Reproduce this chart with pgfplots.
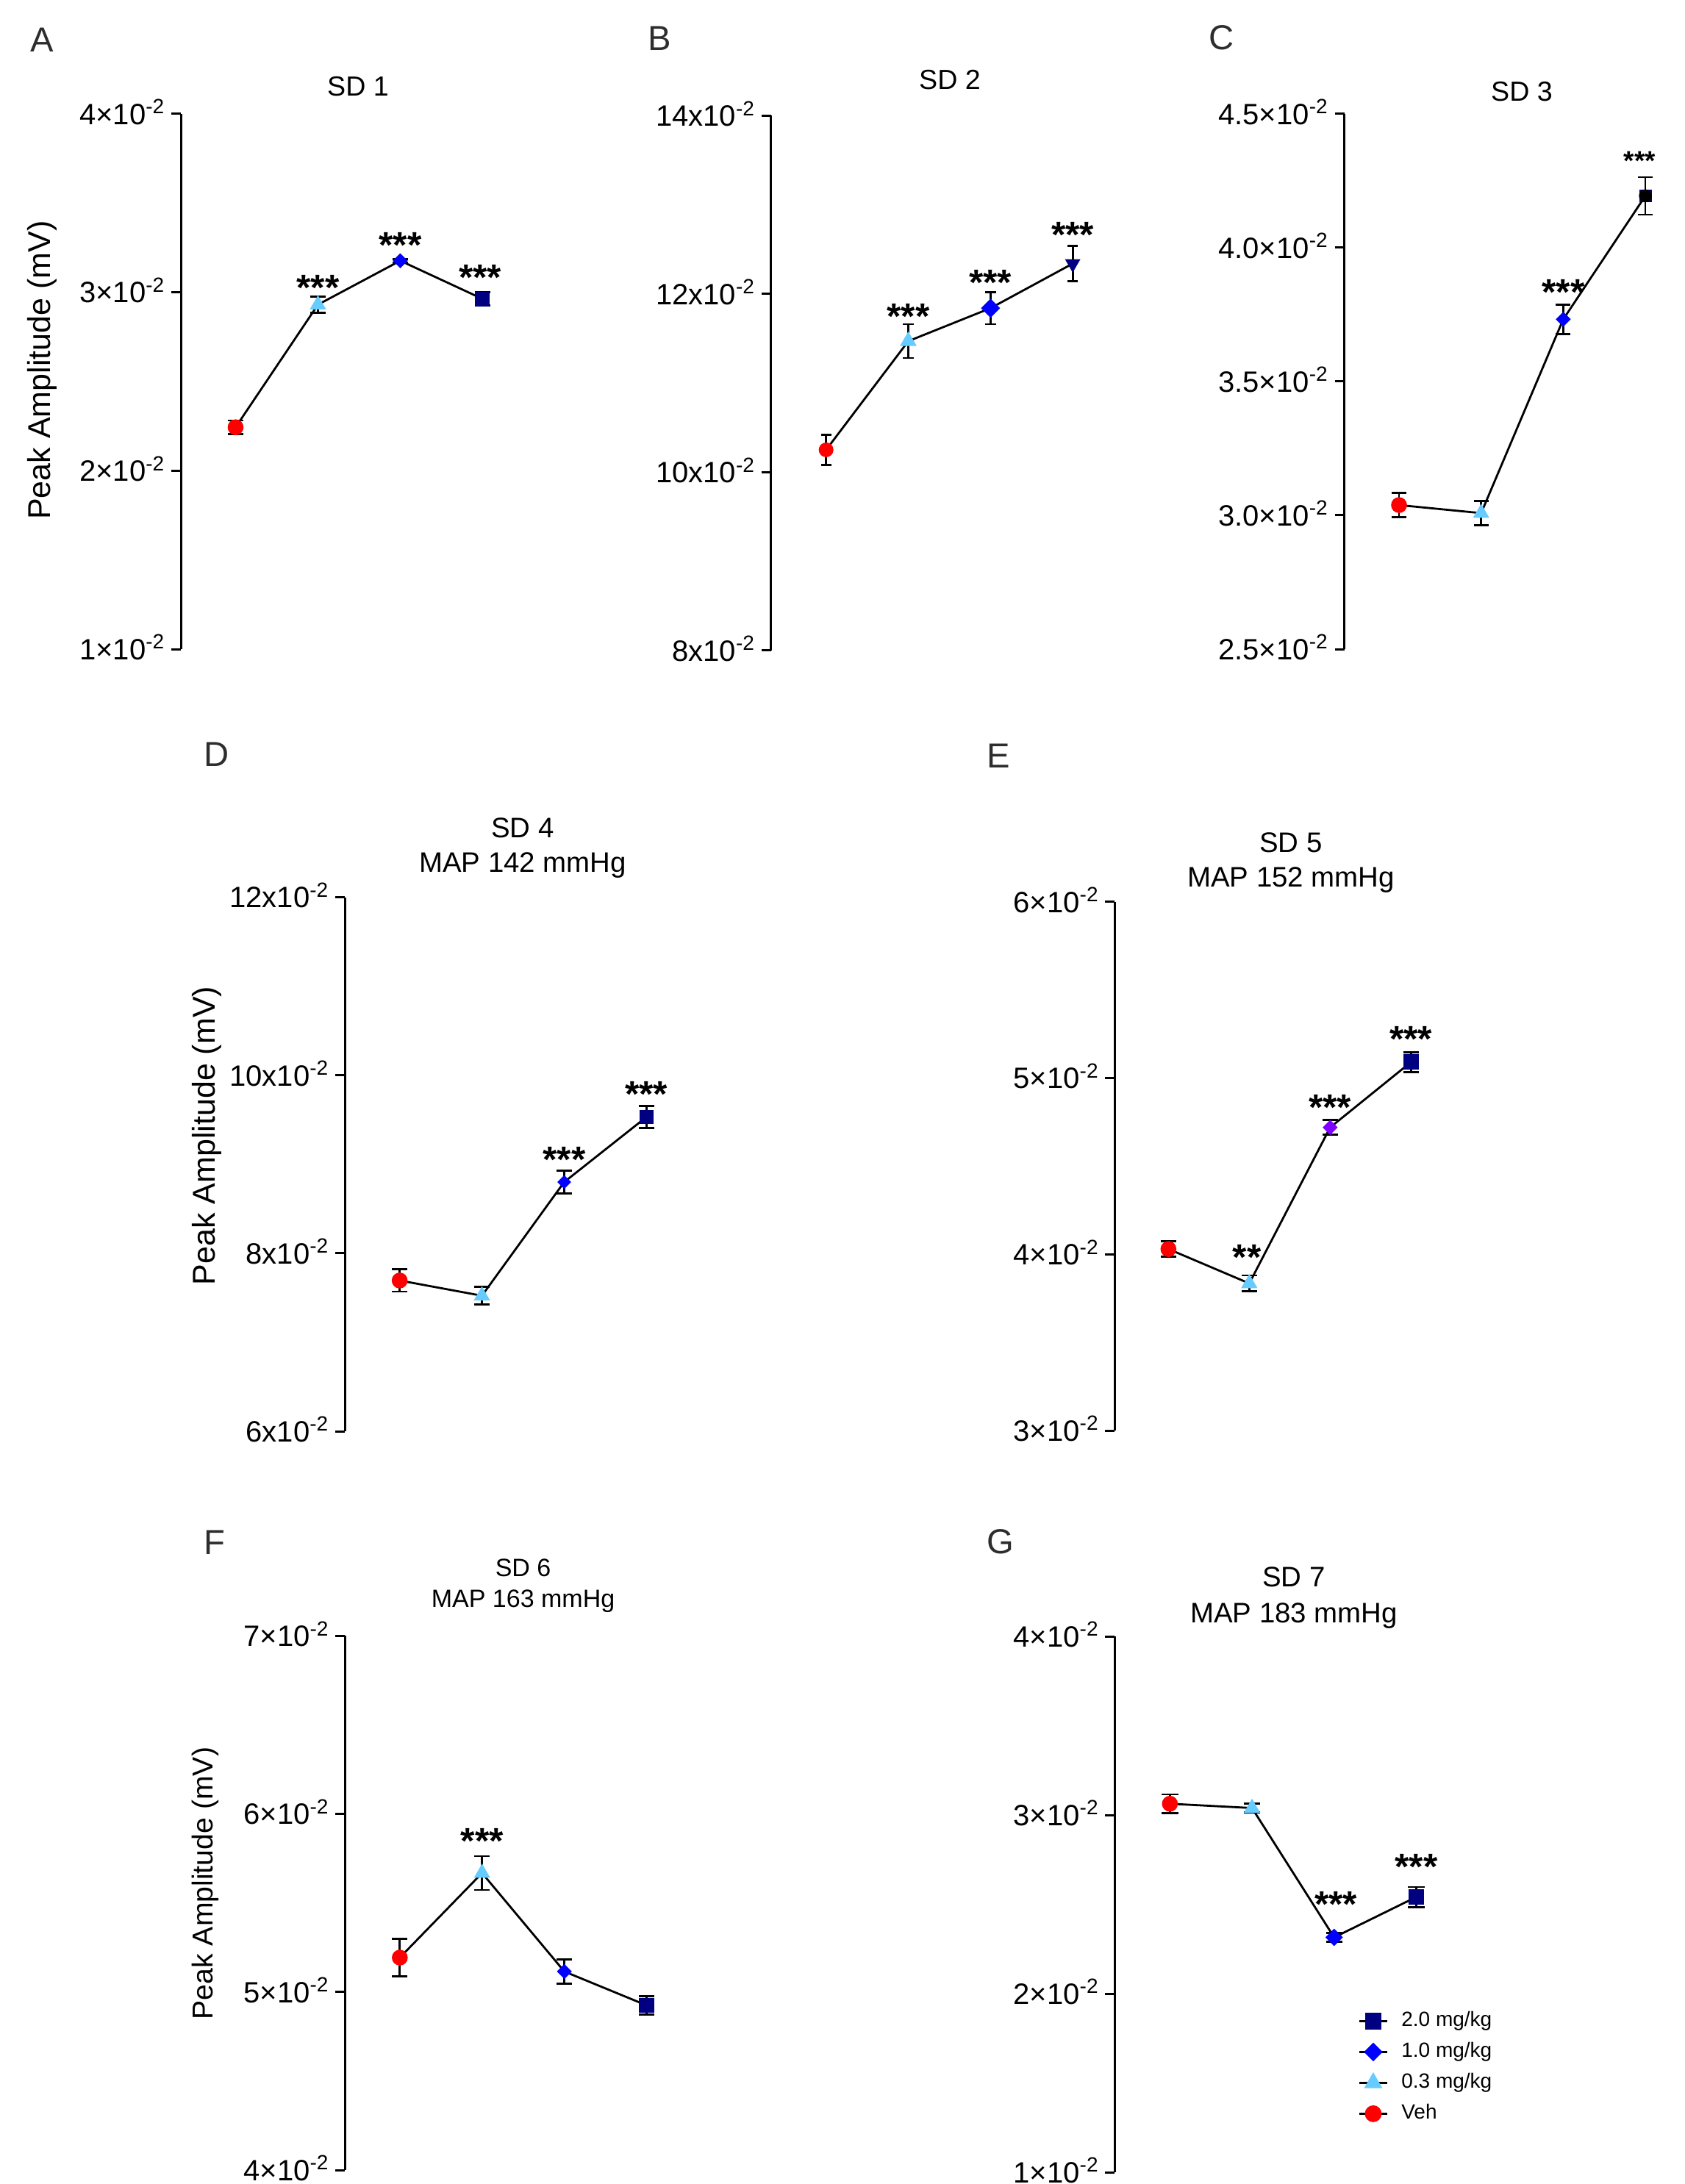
\documentclass[border=0pt]{standalone}
\usepackage{fontspec}
\setmainfont{Liberation Sans}
\usepackage{pgfplots}
\pgfplotsset{compat=1.18}
\definecolor{vehred}{RGB}{255,0,0}
\definecolor{lblue}{RGB}{102,204,255}
\definecolor{dblue}{RGB}{0,0,255}
\definecolor{navy}{RGB}{0,0,128}
\definecolor{purp}{RGB}{128,0,255}
\definecolor{lettergray}{RGB}{45,45,45}
\newcommand\stars{\bfseries\fontsize{12.4}{12}\selectfont}
\newcommand\tfont{\fontsize{9.6}{11}\selectfont}
\tikzset{st/.style={font=\stars, anchor=base, yshift=-5.3pt}}
\pgfplotsset{
  panel/.style={
    hide x axis, axis y line*=left, ytick pos=left, clip=false,
    tick align=outside, major tick length=3.25pt, minor tick num=0,
    y axis line style={line width=0.75pt, black},
    ytick style={line width=0.75pt, black},
    yticklabel style={font=\fontsize{10}{12}\selectfont, inner sep=0pt, anchor=base east, xshift=-1.75pt, yshift=-3.6pt},
    anchor=south west, xmax=3.3,
  },
  vehm/.style={only marks, mark=*, mark size=2.5pt, color=vehred, forget plot},
  lbm/.style={only marks, mark=triangle*, mark size=2.8pt, color=lblue, forget plot},
  dm/.style={only marks, mark=square*, mark size=1.6pt, mark options={rotate=45}, color=#1, forget plot},
  dm/.default=dblue,
  sqm/.style={only marks, mark=square*, mark size=2.3pt, color=navy, forget plot},
  errplot/.style={black, line width=0.7pt, mark=none, forget plot,
    error bars/.cd, y dir=both, y explicit,
    error bar style={line width=0.7pt, black},
    error mark options={rotate=90, mark size=#1, line width=0.7pt, black}},
  errplot/.default=2.7pt,
}
\begin{document}
\begin{tikzpicture}
\useasboundingbox (0,0) rectangle (573pt,-742.75pt);

% ---------------- A ----------------
\begin{axis}[panel, at={(61.5pt,-220.75pt)}, x=28pt, y=60.7pt,
  xmin=-0.665, ymin=1, ymax=4, ytick={1,2,3,4},
  yticklabels={1×10\textsuperscript{-2},2×10\textsuperscript{-2},3×10\textsuperscript{-2},4×10\textsuperscript{-2}}]
\addplot[vehm] coordinates {(0,2.243)};
\addplot[lbm] coordinates {(1,2.93)};
\addplot[dm] coordinates {(2,3.176)};
\addplot[sqm] coordinates {(3,2.962)};
\addplot[errplot] coordinates {(0,2.243) +- (0,0.038) (1,2.93) +- (0,0.045) (2,3.176) +- (0,0.01) (3,2.962) +- (0,0.038)};
\node[st] at (axis cs:1,3.043) {***};
\node[st] at (axis cs:2,3.281) {***};
\node[st] at (axis cs:2.97,3.098) {***};
\end{axis}

% ---------------- B ----------------
\begin{axis}[panel, at={(262.175pt,-221.15pt)}, x=27.95pt, y=30.3pt,
  xmin=-0.671, ymin=8, ymax=14, ytick={8,10,12,14},
  yticklabels={8x10\textsuperscript{-2},10x10\textsuperscript{-2},12x10\textsuperscript{-2},14x10\textsuperscript{-2}}]
\addplot[vehm, mark size=2.3pt] coordinates {(0,10.25)};
\addplot[lbm, mark size=2.9pt] coordinates {(1,11.47)};
\addplot[dm, mark size=2.1pt] coordinates {(2,11.84)};
\addplot[only marks, mark=triangle*, mark size=2.65pt, mark options={rotate=180}, color=navy, forget plot] coordinates {(3,12.34)};
\addplot[errplot=1.8pt] coordinates {(0,10.25) +- (0,0.17) (1,11.47) +- (0,0.19) (2,11.84) +- (0,0.18) (3,12.34) +- (0,0.20)};
\node[st] at (axis cs:1,11.78) {***};
\node[st] at (axis cs:2,12.16) {***};
\node[st] at (axis cs:3,12.70) {***};
\end{axis}

% ---------------- C ----------------
\begin{axis}[panel, at={(457.125pt,-220.75pt)}, x=27.925pt, y=91.05pt,
  xmin=-0.667, ymin=2.5, ymax=4.5, ytick={2.5,3,3.5,4,4.5},
  yticklabels={2.5×10\textsuperscript{-2},3.0×10\textsuperscript{-2},3.5×10\textsuperscript{-2},4.0×10\textsuperscript{-2},4.5×10\textsuperscript{-2}}]
\addplot[vehm] coordinates {(0,3.038)};
\addplot[lbm] coordinates {(1,3.008)};
\addplot[dm] coordinates {(2,3.732)};
\addplot[sqm, mark size=1.95pt] coordinates {(3,4.193)};
\addplot[errplot=2.5pt] coordinates {(0,3.038) +- (0,0.045) (1,3.008) +- (0,0.045) (2,3.732) +- (0,0.055)};
\addplot[black, line width=0.7pt, forget plot] coordinates {(2,3.732) (3,4.193)};
\addplot[only marks, mark=none, forget plot, error bars/.cd, y dir=both, y explicit,
  error bar style={line width=0.4pt, black}, error mark options={rotate=90, mark size=2.5pt, line width=0.4pt, black}]
  coordinates {(3,4.193) +- (0,0.07)};
\node[st] at (axis cs:2,3.845) {***};
\node[font=\bfseries\fontsize{9.2}{10}\selectfont, anchor=base, yshift=-3.9pt] at (axis cs:2.93,4.333) {***};
\end{axis}

% ---------------- D ----------------
\begin{axis}[panel, at={(117.25pt,-486.75pt)}, x=27.975pt, y=30.27pt,
  xmin=-0.667, ymin=6, ymax=12, ytick={6,8,10,12},
  yticklabels={6x10\textsuperscript{-2},8x10\textsuperscript{-2},10x10\textsuperscript{-2},12x10\textsuperscript{-2}}]
\addplot[vehm] coordinates {(0,7.694)};
\addplot[lbm] coordinates {(1,7.523)};
\addplot[dm, mark size=1.45pt] coordinates {(2,8.80)};
\addplot[sqm, mark size=2.2pt] coordinates {(3,9.531)};
\addplot[errplot=2.6pt] coordinates {(0,7.694) +- (0,0.125) (1,7.523) +- (0,0.10) (2,8.80) +- (0,0.125) (3,9.531) +- (0,0.127)};
\node[st] at (axis cs:2,9.09) {***};
\node[st] at (axis cs:3,9.82) {***};
\end{axis}

% ---------------- E ----------------
\begin{axis}[panel, at={(379.1pt,-486.5pt)}, x=27.5pt, y=59.93pt,
  xmin=-0.663, ymin=3, ymax=6, ytick={3,4,5,6},
  yticklabels={3×10\textsuperscript{-2},4×10\textsuperscript{-2},5×10\textsuperscript{-2},6×10\textsuperscript{-2}}]
\addplot[vehm] coordinates {(0,4.03)};
\addplot[lbm] coordinates {(1,3.835)};
\addplot[dm=purp] coordinates {(2,4.72)};
\addplot[sqm, mark size=2.4pt] coordinates {(3,5.091)};
\addplot[errplot=2.6pt] coordinates {(0,4.03) +- (0,0.044) (1,3.835) +- (0,0.045) (2,4.72) +- (0,0.042) (3,5.091) +- (0,0.057)};
\node[st] at (axis cs:0.97,4.0) {**};
\node[st] at (axis cs:2,4.85) {***};
\node[st] at (axis cs:3,5.24) {***};
\end{axis}

% ---------------- F ----------------
\begin{axis}[panel, at={(117.3pt,-738pt)}, x=27.975pt, y=60.56pt,
  xmin=-0.667, ymin=4, ymax=7, ytick={4,5,6,7},
  yticklabels={4×10\textsuperscript{-2},5×10\textsuperscript{-2},6×10\textsuperscript{-2},7×10\textsuperscript{-2}}]
\addplot[vehm] coordinates {(0,5.193)};
\addplot[lbm] coordinates {(1,5.668)};
\addplot[dm] coordinates {(2,5.115)};
\addplot[sqm, mark size=2.4pt] coordinates {(3,4.925)};
\addplot[errplot=2.6pt] coordinates {(0,5.193) +- (0,0.106) (1,5.668) +- (0,0.095) (2,5.115) +- (0,0.068) (3,4.925) +- (0,0.052)};
\node[st] at (axis cs:1,5.866) {***};
\end{axis}

% ---------------- G ----------------
\begin{axis}[panel, at={(379.1pt,-738.75pt)}, x=27.925pt, y=60.75pt,
  xmin=-0.671, ymin=1, ymax=4, ytick={1,2,3,4},
  yticklabels={1×10\textsuperscript{-2},2×10\textsuperscript{-2},3×10\textsuperscript{-2},4×10\textsuperscript{-2}},
  legend image code/.code={\draw[#1, mark repeat=2, mark phase=2] plot coordinates {(0pt,0pt) (4.65pt,0pt) (9.3pt,0pt)};},
  legend cell align=left,
  legend style={draw=none, fill=none, font=\fontsize{7}{8}\selectfont,
    at={(axis cs:2.29,1.903)}, anchor=north west, inner sep=0pt,
    row sep=4pt, column sep=4.6pt,
    nodes={inner sep=0pt, text height=5pt, text depth=1.5pt}}]
\addlegendimage{black, line width=0.7pt, mark=square*, mark size=2.5pt, mark options={fill=navy, draw=navy}}
\addlegendentry{2.0 mg/kg}
\addlegendimage{black, line width=0.7pt, mark=square*, mark size=1.9pt, mark options={rotate=45, fill=dblue, draw=dblue}}
\addlegendentry{1.0 mg/kg}
\addlegendimage{black, line width=0.7pt, mark=triangle*, mark size=2.9pt, mark options={fill=lblue, draw=lblue}}
\addlegendentry{0.3 mg/kg}
\addlegendimage{black, line width=0.7pt, mark=*, mark size=2.5pt, mark options={fill=vehred, draw=vehred}}
\addlegendentry{Veh}
\addplot[vehm] coordinates {(0,3.063)};
\addplot[lbm] coordinates {(1,3.039)};
\addplot[dm, mark size=1.9pt] coordinates {(2,2.315)};
\addplot[sqm, mark size=2.4pt] coordinates {(3,2.541)};
\addplot[errplot=2.8pt] coordinates {(0,3.063) +- (0,0.052) (1,3.039) +- (0,0.024) (2,2.315) +- (0,0.024) (3,2.541) +- (0,0.056)};
\node[st] at (axis cs:2.02,2.519) {***};
\node[st] at (axis cs:3,2.726) {***};
\end{axis}

% ---------------- titles, letters, y labels ----------------
\begin{scope}[every node/.style={inner sep=0pt}]
\node[anchor=base, font=\fontsize{9.4}{11}\selectfont] at (121.75pt,-32.5pt) {SD 1};
\node[anchor=base, font=\fontsize{9.4}{11}\selectfont] at (323pt,-30.25pt) {SD 2};
\node[anchor=base, font=\fontsize{9.4}{11}\selectfont] at (517.5pt,-34.25pt) {SD 3};
\node[anchor=base, font=\tfont] at (177.75pt,-284.9pt) {SD 4};
\node[anchor=base, font=\tfont] at (177.75pt,-296.7pt) {MAP 142 mmHg};
\node[anchor=base, font=\tfont] at (439pt,-289.9pt) {SD 5};
\node[anchor=base, font=\tfont] at (439pt,-301.6pt) {MAP 152 mmHg};
\node[anchor=base, font=\fontsize{8.5}{10}\selectfont] at (177.9pt,-536pt) {SD 6};
\node[anchor=base, font=\fontsize{8.5}{10}\selectfont] at (177.9pt,-546.6pt) {MAP 163 mmHg};
\node[anchor=base, font=\tfont] at (440pt,-539.6pt) {SD 7};
\node[anchor=base, font=\tfont] at (440pt,-551.9pt) {MAP 183 mmHg};

\begin{scope}[every node/.append style={anchor=base west, font=\fontsize{11.8}{13}\selectfont, text=lettergray}]
\node at (10.25pt,-17.5pt) {A};
\node at (220.25pt,-17pt) {B};
\node at (411pt,-16.9pt) {C};
\node at (69.25pt,-260.5pt) {D};
\node at (335.5pt,-261pt) {E};
\node at (69.25pt,-528.5pt) {F};
\node at (335.5pt,-528.25pt) {G};
\end{scope}

\node[rotate=90, anchor=base, font=\fontsize{10.75}{12}\selectfont] at (17pt,-125.9pt) {Peak Amplitude (mV)};
\node[rotate=90, anchor=base, font=\fontsize{10.75}{12}\selectfont] at (73.1pt,-386.25pt) {Peak Amplitude (mV)};
\node[rotate=90, anchor=base, font=\fontsize{9.8}{11}\selectfont] at (72.4pt,-640.5pt) {Peak Amplitude (mV)};
\end{scope}
\end{tikzpicture}
\end{document}
